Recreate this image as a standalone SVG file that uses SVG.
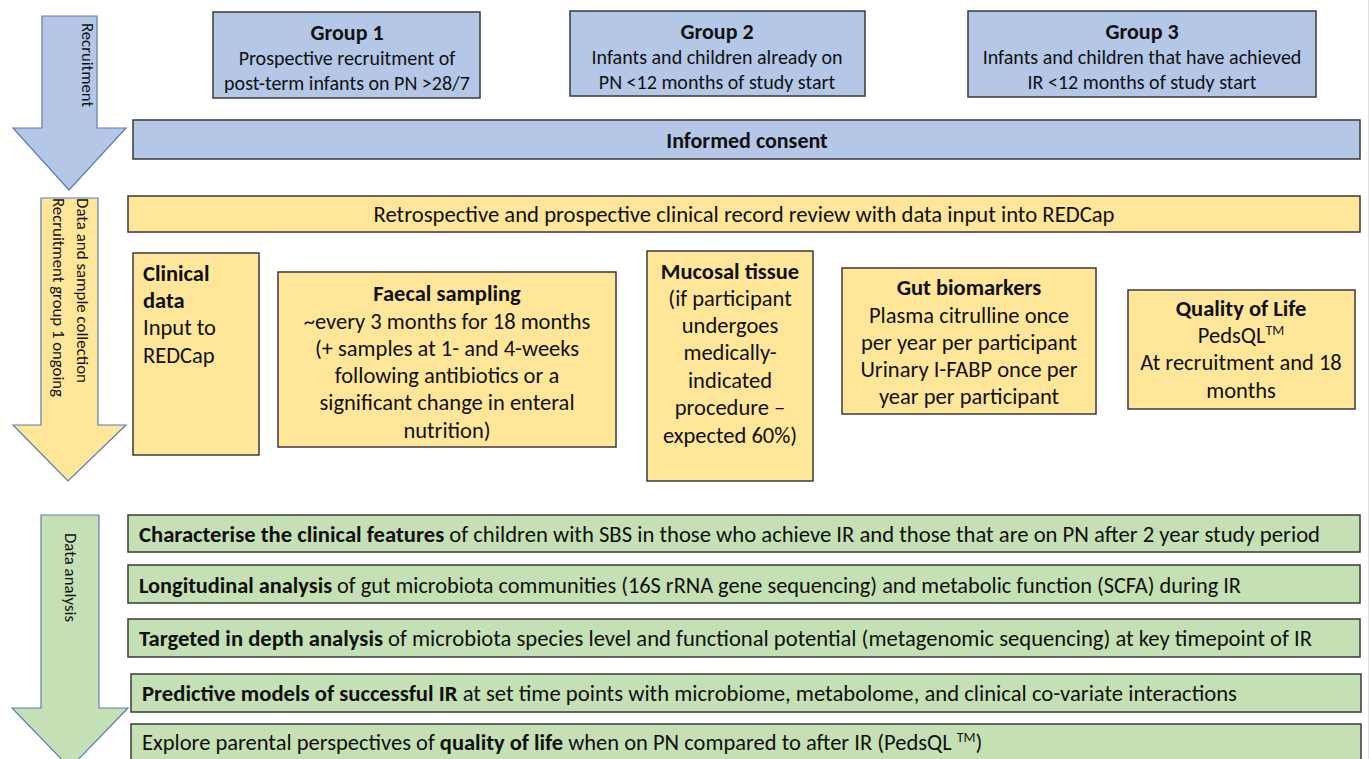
<svg xmlns="http://www.w3.org/2000/svg" width="1371" height="759" viewBox="0 0 1371 759">
<style>
text{font-family:Carlito,Lato,"Liberation Sans",sans-serif;fill:#111;}
.b{font-weight:bold;}
.box{stroke:#3a3a3a;stroke-width:1.5;}
.blue{fill:#B4C7E7;}
.yel{fill:#FFE699;}
.grn{fill:#C5E0B4;}
.arr{stroke:#5B7DB8;stroke-width:1.2;}
.h{font-size:22px;font-weight:bold;}
.g{font-size:20px;}
.y{font-size:22.5px;}
.gr{font-size:22.5px;}
.a{font-size:15.5px;}
.c{text-anchor:middle;}
</style>
<rect width="1371" height="759" fill="#fff"/>
<line x1="1368.5" y1="0" x2="1368.5" y2="759" stroke="#e2e2e2" stroke-width="1"/>
<g id="connectors">
<g id="arrow-recruitment">
<polygon class="arr blue" points="42,16 97,16 97,128 126,128 69,190 13,128 42,128"/>
<text class="a" transform="translate(82,23) rotate(90)" textLength="84" lengthAdjust="spacingAndGlyphs">Recruitment</text>
</g>
<g id="arrow-data-collection">
<polygon class="arr yel" points="41,198 98,198 98,425 126,425 68,481 13,425 41,425"/>
<text class="a" transform="translate(77,198) rotate(90)" textLength="185" lengthAdjust="spacingAndGlyphs">Data and sample collection</text>
<text class="a" transform="translate(53,198) rotate(90)" textLength="199" lengthAdjust="spacingAndGlyphs">Recruitment group 1 ongoing</text>
</g>
<g id="arrow-data-analysis">
<polygon class="arr grn" points="41,515 99,515 99,708 128,708 70,768 12,708 41,708"/>
<text class="a" transform="translate(65,533) rotate(90)" textLength="89" lengthAdjust="spacingAndGlyphs">Data analysis</text>
</g>
</g>
<g id="group1">
<rect class="box blue" x="213" y="12" width="267" height="86"/>
<text class="h c" x="347" y="40">Group 1</text>
<text class="g c" x="347" y="65">Prospective recruitment of</text>
<text class="g c" x="347" y="90">post-term infants on PN &gt;28/7</text>
</g>
<g id="group2">
<rect class="box blue" x="570" y="11" width="295" height="85"/>
<text class="h c" x="717" y="39">Group 2</text>
<text class="g c" x="717" y="64">Infants and children already on</text>
<text class="g c" x="717" y="89">PN &lt;12 months of study start</text>
</g>
<g id="group3">
<rect class="box blue" x="968" y="11" width="348" height="86"/>
<text class="h c" x="1142" y="39">Group 3</text>
<text class="g c" x="1142" y="64">Infants and children that have achieved</text>
<text class="g c" x="1142" y="89">IR &lt;12 months of study start</text>
</g>
<g id="consent">
<rect class="box blue" x="133" y="120" width="1227" height="39"/>
<text class="h c" x="747" y="148">Informed consent</text>
</g>
<g id="record-review">
<rect class="box yel" x="128" y="196" width="1232" height="36"/>
<text class="y c" x="744" y="222" textLength="741" lengthAdjust="spacingAndGlyphs">Retrospective and prospective clinical record review with data input into REDCap</text>
</g>
<g id="clinical-data">
<rect class="box yel" x="133" y="253" width="126" height="202"/>
<text class="y b" x="143" y="281">Clinical</text>
<text class="y b" x="143" y="308">data</text>
<text class="y" x="143" y="335">Input to</text>
<text class="y" x="143" y="363">REDCap</text>
</g>
<g id="faecal">
<rect class="box yel" x="278" y="272" width="338" height="175"/>
<text class="y b c" x="447" y="301">Faecal sampling</text>
<text class="y c" x="447" y="329">~every 3 months for 18 months</text>
<text class="y c" x="447" y="356">(+ samples at 1- and 4-weeks</text>
<text class="y c" x="447" y="383">following antibiotics or a</text>
<text class="y c" x="447" y="410">significant change in enteral</text>
<text class="y c" x="447" y="438">nutrition)</text>
</g>
<g id="mucosal">
<rect class="box yel" x="647" y="251" width="166" height="230"/>
<text class="y b c" x="730" y="279">Mucosal tissue</text>
<text class="y c" x="730" y="306">(if participant</text>
<text class="y c" x="730" y="333">undergoes</text>
<text class="y c" x="730" y="360">medically-</text>
<text class="y c" x="730" y="388">indicated</text>
<text class="y c" x="730" y="415">procedure –</text>
<text class="y c" x="730" y="443">expected 60%)</text>
</g>
<g id="biomarkers">
<rect class="box yel" x="842" y="268" width="254" height="146"/>
<text class="y b c" x="969" y="295">Gut biomarkers</text>
<text class="y c" x="969" y="323">Plasma citrulline once</text>
<text class="y c" x="969" y="350">per year per participant</text>
<text class="y c" x="969" y="377">Urinary I-FABP once per</text>
<text class="y c" x="969" y="404">year per participant</text>
</g>
<g id="quality">
<rect class="box yel" x="1128" y="290" width="227" height="119"/>
<text class="y b c" x="1241" y="316">Quality of Life</text>
<text class="y c" x="1241" y="343">PedsQL<tspan font-size="14" dy="-8">TM</tspan></text>
<text class="y c" x="1241" y="370">At recruitment and 18</text>
<text class="y c" x="1241" y="398">months</text>
</g>
<g id="analysis1">
<rect class="box grn" x="128" y="515" width="1232" height="37"/>
<text class="gr" x="139" y="542" textLength="1181" lengthAdjust="spacingAndGlyphs"><tspan class="b">Characterise the clinical features</tspan> of children with SBS in those who achieve IR and those that are on PN after 2 year study period</text>
</g>
<g id="analysis2">
<rect class="box grn" x="128" y="565" width="1232" height="38"/>
<text class="gr" x="139" y="593" textLength="1102" lengthAdjust="spacingAndGlyphs"><tspan class="b">Longitudinal analysis</tspan> of gut microbiota communities (16S rRNA gene sequencing) and metabolic function (SCFA) during IR</text>
</g>
<g id="analysis3">
<rect class="box grn" x="128" y="619" width="1232" height="38"/>
<text class="gr" x="139" y="646" textLength="1173" lengthAdjust="spacingAndGlyphs"><tspan class="b">Targeted in depth analysis</tspan> of microbiota species level and functional potential (metagenomic sequencing) at key timepoint of IR</text>
</g>
<g id="analysis4">
<rect class="box grn" x="131" y="674" width="1230" height="38"/>
<text class="gr" x="142" y="701" textLength="1095" lengthAdjust="spacingAndGlyphs"><tspan class="b">Predictive models of successful IR</tspan> at set time points with microbiome, metabolome, and clinical co-variate interactions</text>
</g>
<g id="analysis5">
<rect class="box grn" x="131" y="724" width="1230" height="40"/>
<text class="gr" x="142" y="750">Explore parental perspectives of <tspan class="b">quality of life</tspan> when on PN compared to after IR (PedsQL <tspan font-size="14" dy="-8">TM</tspan><tspan dy="8">)</tspan></text>
</g>
</svg>
